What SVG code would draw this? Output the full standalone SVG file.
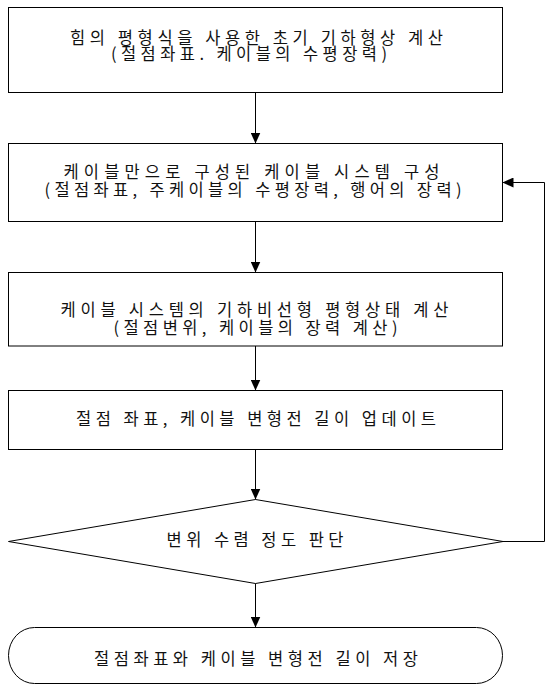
<svg xmlns="http://www.w3.org/2000/svg" width="554" height="687" viewBox="0 0 554 687">
<style>
.box{fill:#fff;stroke:#000;stroke-width:1}
.t{font-family:"Noto Sans CJK KR","Noto Sans",sans-serif;font-size:16.5px;fill:#111}
.c{fill:none;stroke:#000;stroke-width:1}
</style>
<defs>
<marker id="ah" viewBox="0 0 11 10" refX="11" refY="5" markerWidth="11" markerHeight="10" markerUnits="userSpaceOnUse" orient="auto">
<path d="M0,0 L11,5 L0,10 Z" fill="#000"/>
</marker>
</defs>
<rect width="554" height="687" fill="#fff"/>
<g id="n1">
<rect class="box" x="8.5" y="7.5" width="494" height="85"/>
<text class="t" x="70" y="44" textLength="373" lengthAdjust="spacing">힘의 평형식을 사용한 초기 기하형상 계산</text>
<text class="t" x="111" y="60" textLength="276" lengthAdjust="spacing">(절점좌표. 케이블의 수평장력)</text>
</g>
<g id="n2">
<rect class="box" x="8.5" y="143.5" width="494" height="78"/>
<text class="t" x="63.5" y="177.5" textLength="376" lengthAdjust="spacing">케이블만으로 구성된 케이블 시스템 구성</text>
<text class="t" x="44.5" y="195.5" textLength="417" lengthAdjust="spacing">(절점좌표, 주케이블의 수평장력, 행어의 장력)</text>
</g>
<g id="n3">
<rect class="box" x="8.5" y="272.5" width="494" height="73.5"/>
<text class="t" x="60.5" y="316" textLength="388" lengthAdjust="spacing">케이블 시스템의 기하비선형 평형상태 계산</text>
<text class="t" x="113.5" y="334" textLength="284" lengthAdjust="spacing">(절점변위, 케이블의 장력 계산)</text>
</g>
<g id="n4">
<rect class="box" x="8.5" y="390.5" width="494" height="59"/>
<text class="t" x="76" y="424.5" textLength="360" lengthAdjust="spacing">절점 좌표, 케이블 변형전 길이 업데이트</text>
</g>
<g id="n5">
<polygon class="box" points="255.5,499.5 503,541.5 255.5,583.5 8.5,541.5"/>
<text class="t" x="166.5" y="546" textLength="177" lengthAdjust="spacing">변위 수렴 정도 판단</text>
</g>
<g id="n6">
<rect class="box" x="8.5" y="627.5" width="494" height="56" rx="26" ry="28"/>
<text class="t" x="94" y="664.5" textLength="324" lengthAdjust="spacing">절점좌표와 케이블 변형전 길이 저장</text>
</g>
<g id="connectors">
<line class="c" x1="255.5" y1="92.5" x2="255.5" y2="143.5" marker-end="url(#ah)"/>
<line class="c" x1="255.5" y1="221.5" x2="255.5" y2="272.5" marker-end="url(#ah)"/>
<line class="c" x1="255.5" y1="346" x2="255.5" y2="390.5" marker-end="url(#ah)"/>
<line class="c" x1="255.5" y1="449.5" x2="255.5" y2="499.5" marker-end="url(#ah)"/>
<line class="c" x1="255.5" y1="583.5" x2="255.5" y2="627.5" marker-end="url(#ah)"/>
<polyline class="c" points="503,541.5 544.5,541.5 544.5,182.5 502.5,182.5" marker-end="url(#ah)"/>
</g>
</svg>
